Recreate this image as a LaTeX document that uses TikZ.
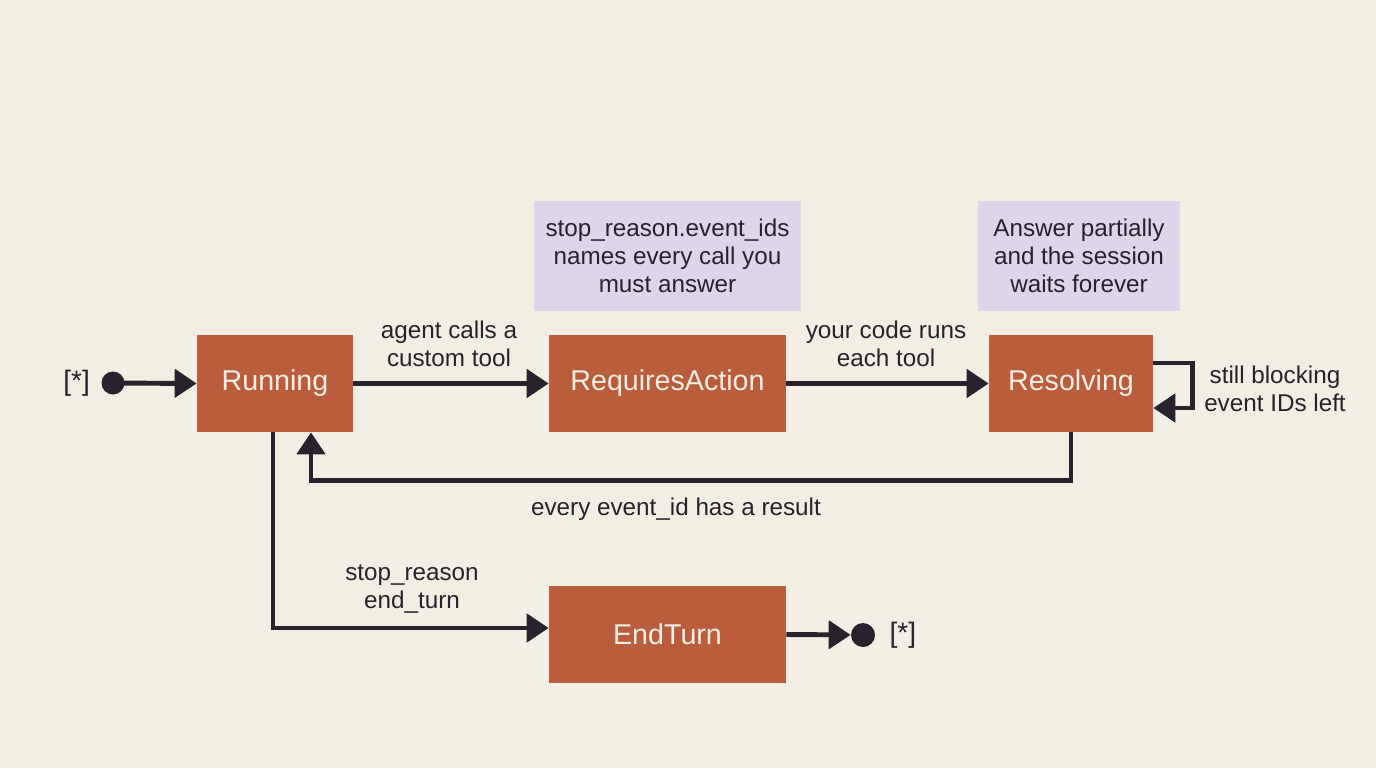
\documentclass[tikz,border=0pt]{standalone}
\usepackage{fontspec}
\setmainfont{Liberation Sans}
\usetikzlibrary{arrows.meta, positioning}
\definecolor{bgcream}{HTML}{F2EEE3}
\definecolor{boxrust}{HTML}{BA5D3C}
\definecolor{boxtext}{HTML}{F8EEE4}
\definecolor{notelilac}{HTML}{DDD5EA}
\definecolor{inkdark}{HTML}{28222C}

\begin{document}
\begin{tikzpicture}[
    x=0.02cm, y=-0.02cm,
    state/.style={rectangle, fill=boxrust, text=boxtext, minimum height=1.94cm, inner sep=0pt, font=\fontsize{16.3}{19}\selectfont},
    note/.style={rectangle, fill=notelilac, text=inkdark, align=center, minimum height=2.2cm, inner sep=0pt, font=\fontsize{13.8}{15.9}\selectfont},
    pseudo/.style={circle, fill=inkdark, inner sep=0pt},
    translabel/.style={align=center, text=inkdark, font=\fontsize{13.8}{15.9}\selectfont},
    starlabel/.style={text=inkdark, font=\fontsize{16}{18}\selectfont},
    trans/.style={line width=2.8pt, draw=inkdark, -{Triangle[length=0.44cm, width=0.56cm]}}
]

% Canvas
\fill[bgcream] (0,0) rectangle (1376,768);
\useasboundingbox (0,0) rectangle (1376,768);

% States
\node[state, minimum width=3.12cm] (running) at (275,383.5) {Running};
\node[state, minimum width=4.74cm] (reqaction) at (667.5,383.5) {RequiresAction};
\node[state, minimum width=3.28cm] (resolving) at (1071,383.5) {Resolving};
\node[state, minimum width=4.74cm] (endturn) at (667.5,634.5) {EndTurn};

% Notes above states
\node[note, minimum width=5.34cm] (noteids) at (667.5,256) {stop\_reason.event\_ids\\names every call you\\must answer};
\node[note, minimum width=4.04cm] (notewait) at (1079,256) {Answer partially\\and the session\\waits forever};

% Initial and final pseudo states
\node[pseudo, minimum size=0.46cm] (init) at (113,383) {};
\node[starlabel, left=0.1cm of init] (initlbl) {[*]};
\node[pseudo, minimum size=0.48cm] (final) at (863,635) {};
\node[starlabel, right=0.16cm of final] (finallbl) {[*]};

% Transitions
\draw[trans] (init.center) -- (running.west);
\draw[trans] (running.east) -- (reqaction.west);
\draw[trans] (reqaction.east) -- (resolving.west);
\draw[trans] (resolving.south) -- ++(0,48) -| ([xshift=0.72cm]running.south);
\draw[trans] ([yshift=0.41cm]resolving.east) -- ++(39,0) |- ([yshift=-0.49cm]resolving.east);
\draw[trans] ([xshift=-0.04cm]running.south) |- ([yshift=0.13cm]endturn.west);
\draw[trans] (endturn.east) -- (final);

% Transition labels
\node[translabel] (lblcall) at (449,344) {agent calls a\\custom tool};
\node[translabel] (lblruns) at (886,344) {your code runs\\each tool};
\node[translabel] (lbldone) at (676,509) {every event\_id has a result};
\node[translabel] (lblend) at (412,589) {stop\_reason\\end\_turn};
\node[translabel] (lblblock) at (1275,389) {still blocking\\event IDs left};

\end{tikzpicture}
\end{document}
